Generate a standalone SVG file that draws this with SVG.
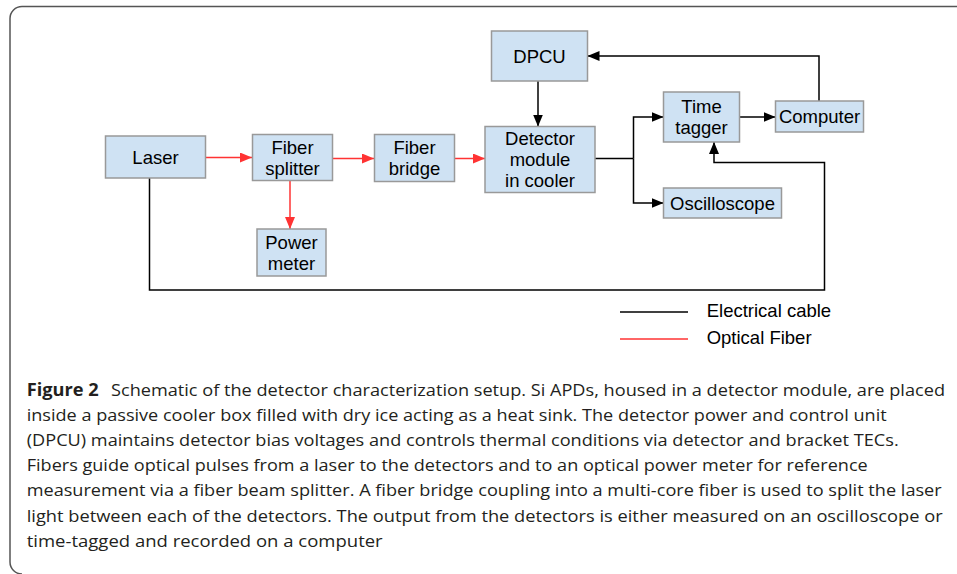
<svg xmlns="http://www.w3.org/2000/svg" width="957" height="574" viewBox="0 0 957 574">
<defs>
<style>
.box{fill:#cfe2f3;stroke:#999999;stroke-width:1.5}
.lbl{font-family:"Liberation Sans",Arial,sans-serif;font-size:18.5px;fill:#000;text-anchor:middle}
.el{fill:none;stroke:#000;stroke-width:1.5}
.op{fill:none;stroke:#ff3333;stroke-width:1.5}
.leg{font-family:"Liberation Sans",Arial,sans-serif;font-size:18.5px;fill:#000}
.cap{font-family:"Open Sans","Noto Sans","DejaVu Sans",sans-serif;font-size:17px;fill:#231f20}
</style>
<marker id="ab" markerUnits="userSpaceOnUse" markerWidth="12" markerHeight="10" viewBox="0 0 12 10" refX="12" refY="5" orient="auto"><path d="M0,0 L12,5 L0,10 Z" fill="#000"/></marker>
<marker id="ar" markerUnits="userSpaceOnUse" markerWidth="12" markerHeight="10" viewBox="0 0 12 10" refX="12" refY="5" orient="auto"><path d="M0,0 L12,5 L0,10 Z" fill="#ff3333"/></marker>
</defs>
<rect width="957" height="574" fill="#fff"/>
<path d="M957,6.5 H22 A12,12 0 0 0 10,18.5 V562 A12,12 0 0 0 22,574" fill="none" stroke="#555" stroke-width="1.5"/>

<g id="connectors">
<path class="op" d="M205.5,157.5 H252" marker-end="url(#ar)"/>
<path class="op" d="M332.5,158.5 H374" marker-end="url(#ar)"/>
<path class="op" d="M454.5,158.5 H485" marker-end="url(#ar)"/>
<path class="op" d="M290,180.5 V229" marker-end="url(#ar)"/>
<path class="el" d="M538,81 V126.5" marker-end="url(#ab)"/>
<path class="el" d="M819,101 V56 H587.5" marker-end="url(#ab)"/>
<path class="el" d="M595,158.5 H633.5"/>
<path class="el" d="M633.5,158.5 V117 H663.5" marker-end="url(#ab)"/>
<path class="el" d="M633.5,158.5 V203 H663.5" marker-end="url(#ab)"/>
<path class="el" d="M739.5,117 H775.5" marker-end="url(#ab)"/>
<path class="el" d="M149.5,178 V290 H824.5 V162.5 H714 V142" marker-end="url(#ab)"/>
</g>

<g id="laser"><rect class="box" x="105.5" y="136" width="100" height="42"/><text class="lbl" x="155.5" y="163.5">Laser</text></g>
<g id="fiber-splitter"><rect class="box" x="252.5" y="134.5" width="80" height="46"/><text class="lbl" x="292.5" y="153.5">Fiber</text><text class="lbl" x="292.5" y="174.5">splitter</text></g>
<g id="fiber-bridge"><rect class="box" x="374.5" y="134.5" width="80" height="47"/><text class="lbl" x="414.5" y="153.5">Fiber</text><text class="lbl" x="414.5" y="174.5">bridge</text></g>
<g id="power-meter"><rect class="box" x="257" y="229" width="69" height="47"/><text class="lbl" x="291.5" y="248.5">Power</text><text class="lbl" x="291.5" y="269.5">meter</text></g>
<g id="dpcu"><rect class="box" x="491.5" y="31" width="96" height="50"/><text class="lbl" x="539.5" y="62.5">DPCU</text></g>
<g id="detector-module"><rect class="box" x="485" y="126.5" width="110" height="66"/><text class="lbl" x="540" y="145">Detector</text><text class="lbl" x="540" y="166">module</text><text class="lbl" x="540" y="187.3">in cooler</text></g>
<g id="time-tagger"><rect class="box" x="663.5" y="92" width="76" height="50"/><text class="lbl" x="701.5" y="113.3">Time</text><text class="lbl" x="701.5" y="134.3">tagger</text></g>
<g id="computer"><rect class="box" x="775.5" y="101" width="88" height="31"/><text class="lbl" x="819.5" y="123.3">Computer</text></g>
<g id="oscilloscope"><rect class="box" x="663.5" y="188" width="118" height="30"/><text class="lbl" x="722.5" y="210">Oscilloscope</text></g>

<g id="legend">
<line x1="620" y1="312" x2="688" y2="312" stroke="#000" stroke-width="1.5"/>
<line x1="620" y1="339" x2="688" y2="339" stroke="#ff3333" stroke-width="1.5"/>
<text class="leg" x="706.7" y="317">Electrical cable</text>
<text class="leg" x="706.7" y="343.5">Optical Fiber</text>
</g>

<g id="caption">
<text class="cap" x="26.7" y="395.5" font-weight="bold" textLength="72" lengthAdjust="spacingAndGlyphs">Figure 2</text>
<text class="cap" x="111" y="395.5" textLength="834" lengthAdjust="spacingAndGlyphs">Schematic of the detector characterization setup. Si APDs, housed in a detector module, are placed</text>
<text class="cap" x="26.7" y="420.7" textLength="860" lengthAdjust="spacingAndGlyphs">inside a passive cooler box filled with dry ice acting as a heat sink. The detector power and control unit</text>
<text class="cap" x="26.7" y="445.9" textLength="872" lengthAdjust="spacingAndGlyphs">(DPCU) maintains detector bias voltages and controls thermal conditions via detector and bracket TECs.</text>
<text class="cap" x="26.7" y="471.1" textLength="841" lengthAdjust="spacingAndGlyphs">Fibers guide optical pulses from a laser to the detectors and to an optical power meter for reference</text>
<text class="cap" x="26.7" y="496.3" textLength="915" lengthAdjust="spacingAndGlyphs">measurement via a fiber beam splitter. A fiber bridge coupling into a multi-core fiber is used to split the laser</text>
<text class="cap" x="26.7" y="521.5" textLength="916" lengthAdjust="spacingAndGlyphs">light between each of the detectors. The output from the detectors is either measured on an oscilloscope or</text>
<text class="cap" x="26.7" y="546.7" textLength="356" lengthAdjust="spacingAndGlyphs">time-tagged and recorded on a computer</text>
</g>
</svg>
